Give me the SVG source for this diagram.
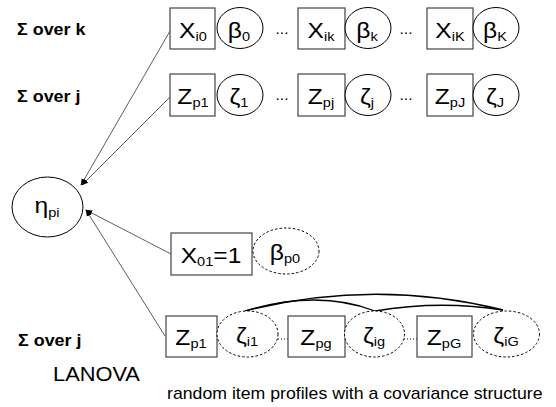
<svg xmlns="http://www.w3.org/2000/svg" width="556" height="407" viewBox="0 0 556 407">
  <defs>
    <marker id="arrow" viewBox="0 0 10 10" refX="9" refY="5" markerWidth="7" markerHeight="7" markerUnits="userSpaceOnUse" orient="auto">
      <path d="M0,1 L10,5 L0,9 z" fill="#000"/>
    </marker>
    <style>
      text { font-family: "Liberation Sans", Arial, sans-serif; fill: #000; }
      .lbl { font-size: 22px; text-anchor: middle; }
      .sub { font-size: 13px; }
      .dots { font-size: 14px; text-anchor: middle; }
      .sum { font-size: 16px; font-weight: bold; }
      .box { fill: #fff; stroke: #444; stroke-width: 1.2; }
      .var { fill: #fff; stroke: #000; stroke-width: 1; }
      .rnd { fill: #fff; stroke: #000; stroke-width: 1; stroke-dasharray: 2.5 2; }
      .path { fill: none; stroke: #333; stroke-width: 0.8; marker-end: url(#arrow); }
      .cov { fill: none; stroke: #000; stroke-width: 1.3; }
      .link { fill: none; stroke: #000; stroke-width: 1; stroke-dasharray: 1 2; }
    </style>
  </defs>

  <!-- row labels -->
  <text class="sum" transform="translate(17 35) scale(1.12 1)">Σ over k</text>
  <text class="sum" transform="translate(17 102) scale(1.12 1)">Σ over j</text>
  <text class="sum" transform="translate(18 346) scale(1.12 1)">Σ over j</text>
  <text transform="translate(53 381) scale(1.12 1)" font-size="19.5">LANOVA</text>
  <text transform="translate(167 399) scale(1.12 1)" font-size="15.8">random item profiles with a covariance structure</text>

  <!-- connectors -->
  <g id="connectors">
    <line class="path" x1="170" y1="31" x2="81" y2="185"/>
    <line class="path" x1="170" y1="97" x2="82" y2="185"/>
    <line class="path" x1="171" y1="254" x2="86" y2="210"/>
    <line class="path" x1="165" y1="336" x2="86" y2="210"/>
    <path class="cov" d="M245,311 Q374,278 503,310"/>
    <path class="cov" d="M245,311 Q318,289 375,311"/>
    <path class="cov" d="M375,311 Q440,300 503,310"/>
    <line class="link" x1="278" y1="339" x2="288" y2="339"/>
    <line class="link" x1="404" y1="339" x2="417" y2="339"/>
  </g>

  <!-- latent outcome -->
  <g id="eta">
    <ellipse class="var" cx="47.5" cy="207" rx="35.5" ry="30"/>
    <text class="lbl" transform="translate(47 213) scale(1.12 1)">η<tspan class="sub" dy="4">pi</tspan></text>
  </g>

  <!-- item covariates row -->
  <g id="x-i0">
    <rect class="box" x="170" y="8" width="45" height="41"/>
    <text class="lbl" transform="translate(193 37.5) scale(1.12 1)">X<tspan class="sub" dy="3">i0</tspan></text>
  </g>
  <g id="beta-0">
    <ellipse class="var" cx="240" cy="28" rx="23" ry="20.5"/>
    <text class="lbl" transform="translate(239 37.5) scale(1.12 1)">β<tspan class="sub" dy="3">0</tspan></text>
  </g>
  <text class="dots" transform="translate(282 34) scale(1.12 1)">...</text>
  <g id="x-ik">
    <rect class="box" x="298" y="8" width="47" height="41"/>
    <text class="lbl" transform="translate(321 37.5) scale(1.12 1)">X<tspan class="sub" dy="3">ik</tspan></text>
  </g>
  <g id="beta-k">
    <ellipse class="var" cx="368" cy="28" rx="23" ry="20.5"/>
    <text class="lbl" transform="translate(367 37.5) scale(1.12 1)">β<tspan class="sub" dy="3">k</tspan></text>
  </g>
  <text class="dots" transform="translate(406 34) scale(1.12 1)">...</text>
  <g id="x-iK">
    <rect class="box" x="427" y="8" width="46" height="41"/>
    <text class="lbl" transform="translate(450 37.5) scale(1.12 1)">X<tspan class="sub" dy="3">iK</tspan></text>
  </g>
  <g id="beta-K">
    <ellipse class="var" cx="496" cy="28" rx="23" ry="20.5"/>
    <text class="lbl" transform="translate(495 37.5) scale(1.12 1)">β<tspan class="sub" dy="3">K</tspan></text>
  </g>

  <!-- person covariates row -->
  <g id="z-p1">
    <rect class="box" x="170" y="74" width="45" height="42"/>
    <text class="lbl" transform="translate(193 104) scale(1.12 1)">Z<tspan class="sub" dy="3">p1</tspan></text>
  </g>
  <g id="zeta-1">
    <ellipse class="var" cx="240" cy="95" rx="23" ry="20.5"/>
    <text class="lbl" transform="translate(239 104) scale(1.12 1)">ζ<tspan class="sub" dy="3">1</tspan></text>
  </g>
  <text class="dots" transform="translate(282 100) scale(1.12 1)">...</text>
  <g id="z-pj">
    <rect class="box" x="298" y="74" width="47" height="42"/>
    <text class="lbl" transform="translate(321 104) scale(1.12 1)">Z<tspan class="sub" dy="3">pj</tspan></text>
  </g>
  <g id="zeta-j">
    <ellipse class="var" cx="368" cy="95" rx="23" ry="20.5"/>
    <text class="lbl" transform="translate(367 104) scale(1.12 1)">ζ<tspan class="sub" dy="3">j</tspan></text>
  </g>
  <text class="dots" transform="translate(406 100) scale(1.12 1)">...</text>
  <g id="z-pJ">
    <rect class="box" x="427" y="74" width="46" height="42"/>
    <text class="lbl" transform="translate(450 104) scale(1.12 1)">Z<tspan class="sub" dy="3">pJ</tspan></text>
  </g>
  <g id="zeta-J">
    <ellipse class="var" cx="496" cy="95" rx="23" ry="20.5"/>
    <text class="lbl" transform="translate(495 104) scale(1.12 1)">ζ<tspan class="sub" dy="3">J</tspan></text>
  </g>

  <!-- intercept -->
  <g id="x-01">
    <rect class="box" x="171" y="233" width="81" height="42"/>
    <text class="lbl" transform="translate(211 263) scale(1.12 1)">X<tspan class="sub" dy="3" font-size="14">01</tspan><tspan dy="-3">=1</tspan></text>
  </g>
  <g id="beta-p0">
    <ellipse class="rnd" cx="286" cy="251" rx="33" ry="23"/>
    <text class="lbl" transform="translate(285 260) scale(1.12 1)">β<tspan class="sub" dy="3">p0</tspan></text>
  </g>

  <!-- random item profiles row -->
  <g id="z-p1-lanova">
    <rect class="box" x="166" y="316" width="51" height="41"/>
    <text class="lbl" transform="translate(191 345) scale(1.12 1)">Z<tspan class="sub" dy="3">p1</tspan></text>
  </g>
  <g id="zeta-i1">
    <ellipse class="rnd" cx="247.5" cy="334" rx="30.5" ry="23"/>
    <text class="lbl" transform="translate(247 343) scale(1.12 1)">ζ<tspan class="sub" dy="3">i1</tspan></text>
  </g>
  <g id="z-pg">
    <rect class="box" x="288" y="316" width="57" height="41"/>
    <text class="lbl" transform="translate(316 345) scale(1.12 1)">Z<tspan class="sub" dy="3">pg</tspan></text>
  </g>
  <g id="zeta-ig">
    <ellipse class="rnd" cx="374.5" cy="334" rx="30" ry="23"/>
    <text class="lbl" transform="translate(374 343) scale(1.12 1)">ζ<tspan class="sub" dy="3">ig</tspan></text>
  </g>
  <g id="z-pG">
    <rect class="box" x="417" y="316" width="55" height="41"/>
    <text class="lbl" transform="translate(444 345) scale(1.12 1)">Z<tspan class="sub" dy="3">pG</tspan></text>
  </g>
  <g id="zeta-iG">
    <ellipse class="rnd" cx="506.5" cy="334" rx="33" ry="23"/>
    <text class="lbl" transform="translate(506 343) scale(1.12 1)">ζ<tspan class="sub" dy="3">iG</tspan></text>
  </g>
</svg>
